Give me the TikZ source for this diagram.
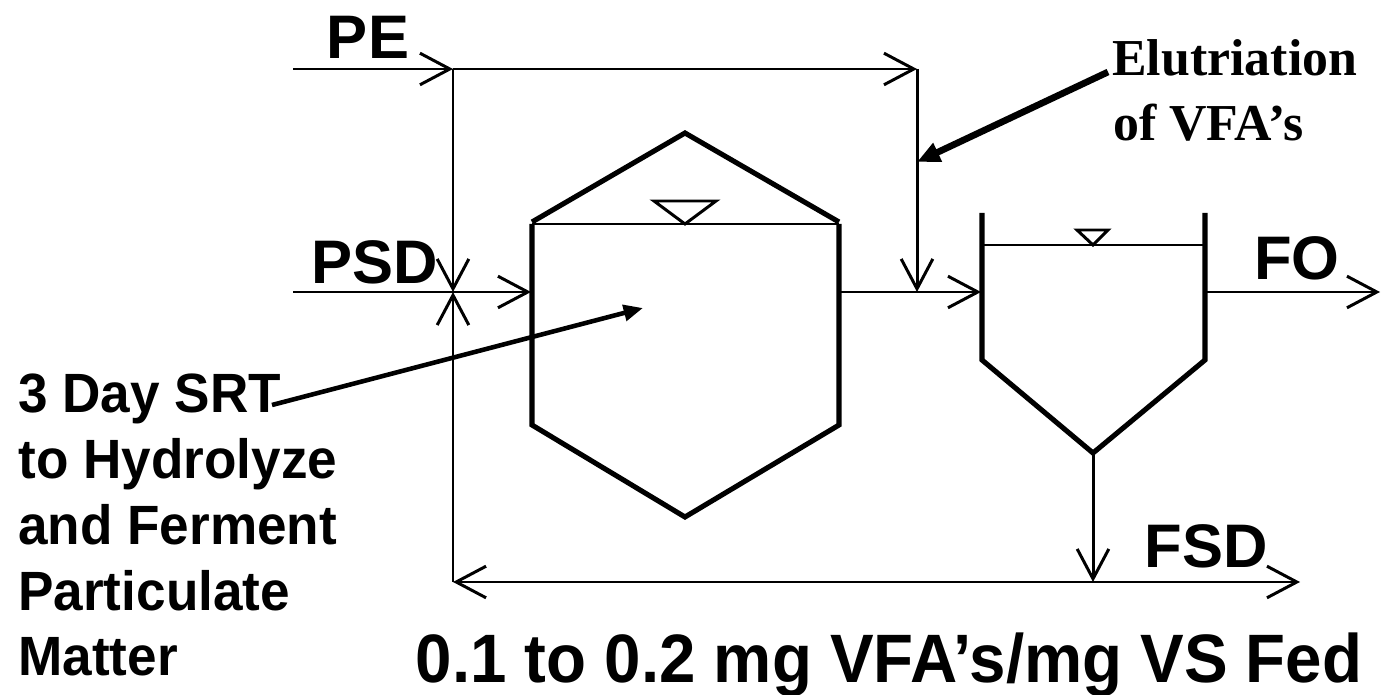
\documentclass[tikz,border=0pt]{standalone}
\usepackage{fontspec}
\setmainfont{Liberation Sans}
\newfontfamily\serifbold{Liberation Serif}
\usetikzlibrary{arrows.meta}
\begin{document}
\begin{tikzpicture}[x=0.02cm,y=-0.02cm,
  flow/.style={line width=1.7pt,-{Straight Barb[length=17pt,width=18pt]}},
  thinline/.style={line width=1.7pt},
  wall/.style={line width=2.9pt,line join=miter},
  pointer/.style={line width=3.8pt,-{Triangle[length=13pt,width=11pt]}},
  srtpointer/.style={line width=2.6pt,-{Triangle[length=11pt,width=9pt]}},
  lbl/.style={font=\fontsize{35}{40}\selectfont\bfseries,inner sep=0pt},
  serlbl/.style={font=\serifbold\fontsize{29.5}{36}\selectfont\bfseries,inner sep=0pt,anchor=base west},
]
\useasboundingbox (0,0) rectangle (1386,695);

% ---- junction coordinates
\coordinate (pein) at (293,69);
\coordinate (pej) at (453,69);
\coordinate (pec) at (917,69);
\coordinate (mix) at (917,292);
\coordinate (psdin) at (293,292);
\coordinate (psdj) at (453,292);
\coordinate (tin) at (531,292);
\coordinate (tout) at (840,292);
\coordinate (cin) at (981,292);
\coordinate (cout) at (1206,292);
\coordinate (foend) at (1380,292);
\coordinate (capex) at (1093,453);
\coordinate (fsdj) at (1093,582);
\coordinate (fsdleft) at (453,582);
\coordinate (fsdend) at (1300,582);
\coordinate (eluStart) at (1108,72);
\coordinate (eluTip) at (917,162);
\coordinate (srtStart) at (272,405);
\coordinate (srtTip) at (643,308);

% ---- fermenter tank
\draw[wall] (532,222) -- (685,133) -- (839,222);
\draw[wall] (532,224) -- (532,425) -- (685,517) -- (839,425) -- (839,224);
\draw[thinline] (532,224) -- (839,224);
\draw[thinline,line join=miter] (654,201) -- (716,201) -- (685,224) -- cycle;

% ---- clarifier
\draw[wall] (982,213) -- (982,360) -- (1093,453) -- (1205,360) -- (1205,213);
\draw[thinline] (982,245) -- (1205,245);
\draw[thinline,line join=miter] (1077,230) -- (1108,230) -- (1093,245) -- cycle;

% ---- flows
\draw[flow] (pein) -- (pej);
\draw[flow] (pej) -- (pec);
\draw[flow] (pec) -- (mix);
\draw[flow] (pej) -- (psdj);
\draw[flow] (psdin) -- (tin);
\draw[flow] (tout) -- (cin);
\draw[flow] (cout) -- (foend);
\draw[flow] (capex) -- (fsdj);
\draw[flow] (fsdj) -- (fsdend);
\draw[flow] (fsdj) -- (fsdleft);
\draw[flow] (fsdleft) -- (psdj);

% ---- labels
\node[lbl] (pe) at (368,37) {PE};
\node[lbl] (psd) at (375,262) {PSD};
\node[lbl] (fo) at (1297,258) {FO};
\node[lbl] (fsd) at (1206,546) {FSD};

\node[serlbl] (elu) at (1112,76) {Elutriation};
\node[serlbl] (vfa) at (1113,141) {of VFA’s};

\node[inner sep=0pt,anchor=base west,font=\fontsize{31.5}{37.4}\selectfont\bfseries] (srt) at (18,413)
  {\scalebox{0.96}[1]{\begin{tabular}[t]{@{}l@{}}3 Day SRT\\to Hydrolyze\\and Ferment\\Particulate\\Matter\end{tabular}}};

\node[inner sep=0pt,anchor=base,font=\fontsize{39}{46}\selectfont\bfseries] (yield) at (889,682)
  {\scalebox{0.955}[1]{0.1 to 0.2 mg VFA’s/mg VS Fed}};

% ---- pointers
\draw[pointer] (eluStart) -- (eluTip);
\draw[srtpointer] (srtStart) -- (srtTip);
\end{tikzpicture}
\end{document}
